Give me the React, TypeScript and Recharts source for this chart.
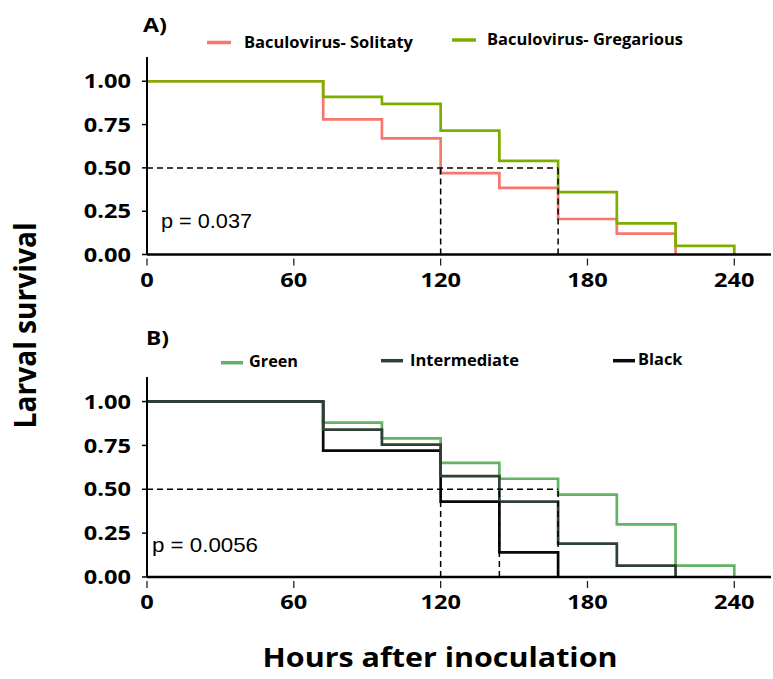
import React from 'react';
import { LineChart, Line, XAxis, YAxis, ReferenceLine } from 'recharts';

// Observation times (hours after inoculation)
const hours = [0, 72, 96, 120, 144, 168, 192, 216, 240];

// Panel A: Kaplan-Meier survival by baculovirus source
const solitarySurvival = [1, 0.78, 0.67, 0.47, 0.385, 0.205, 0.12, 0];
const gregariousSurvival = [1, 0.91, 0.87, 0.715, 0.54, 0.36, 0.18, 0.05, 0];
const mediansA = [120, 168];

// Panel B: Kaplan-Meier survival by larval colour morph
const greenSurvival = [1, 0.88, 0.79, 0.65, 0.56, 0.47, 0.3, 0.065, 0];
const intermediateSurvival = [1, 0.84, 0.755, 0.575, 0.43, 0.19, 0.065, 0];
const blackSurvival = [1, 0.72, 0.72, 0.43, 0.14, 0];
const mediansB = [120, 144, 168];

const xTicks = [0, 60, 120, 180, 240];
const yTicks = [0, 0.25, 0.5, 0.75, 1];

const pValueA = 'p = 0.037';
const pValueB = 'p = 0.0056';

const toRows = (values: number[]) => values.map((s, i) => ({ hour: hours[i], s }));

const seriesA = [
  { name: 'Baculovirus- Solitaty', color: '#F8766D', values: solitarySurvival },
  { name: 'Baculovirus- Gregarious', color: '#7CAE00', values: gregariousSurvival },
];

// drawing order: green, black, then intermediate on top
const seriesB = [
  { name: 'Green', color: '#62B366', values: greenSurvival },
  { name: 'Black', color: '#0A0A0A', values: blackSurvival },
  { name: 'Intermediate', color: '#2E4035', values: intermediateSurvival },
];

const BOLD = "'Open Sans', 'Noto Sans', sans-serif";
const PLAIN = "'Liberation Sans', Arial, sans-serif";
const WIDEN = 1.18;

const HourTick = (props: any) => {
  const { x, y, payload } = props;
  return (
    <g>
      <line x1={x} x2={x} y1={y + 4} y2={y + 11} stroke="#222" strokeWidth={1.3} />
      <text
        transform={`translate(${x}, ${y + 32}) scale(${WIDEN}, 1)`}
        textAnchor="middle"
        fontFamily={BOLD}
        fontWeight={700}
        fontSize={20}
        fill="#000"
      >
        {payload.value}
      </text>
    </g>
  );
};

const SurvivalTick = (props: any) => {
  const { x, y, payload } = props;
  return (
    <text
      transform={`translate(${x}, ${y}) scale(${WIDEN}, 1)`}
      dy="0.355em"
      textAnchor="end"
      fontFamily={BOLD}
      fontWeight={700}
      fontSize={20}
      fill="#000"
    >
      {Number(payload.value).toFixed(2)}
    </text>
  );
};

type Series = { name: string; color: string; values: number[] };

const SurvivalPanel = ({ series, medians, top, bottomMargin }: { series: Series[]; medians: number[]; top: number; bottomMargin: number }) => {
  const lastMedian = Math.max(...medians);
  return (
    <div style={{ position: 'absolute', left: 0, top }}>
      <LineChart width={773} height={300} margin={{ top: 57, right: 2, bottom: bottomMargin, left: 0 }}>
        <XAxis
          type="number"
          dataKey="hour"
          domain={[0, 255]}
          ticks={xTicks}
          height={30}
          tickSize={0}
          tickMargin={0}
          tick={<HourTick />}
          axisLine={{ stroke: '#000', strokeWidth: 2.5 }}
          allowDataOverflow
        />
        <YAxis
          type="number"
          domain={[0, 1.14]}
          ticks={yTicks}
          width={147}
          tickSize={5}
          tickMargin={11}
          tick={<SurvivalTick />}
          tickLine={{ stroke: '#000', strokeWidth: 1.5 }}
          axisLine={{ stroke: '#000', strokeWidth: 2 }}
          allowDataOverflow
        />
        {series.map((s) => (
          <Line
            key={s.name}
            data={toRows(s.values)}
            dataKey="s"
            type="stepAfter"
            stroke={s.color}
            strokeWidth={2.7}
            dot={false}
            activeDot={false}
            isAnimationActive={false}
          />
        ))}
        <ReferenceLine
          segment={[{ x: 0, y: 0.5 }, { x: lastMedian, y: 0.5 }]}
          stroke="#000"
          strokeWidth={1.5}
          strokeDasharray="6 4"
        />
        {medians.map((m) => (
          <ReferenceLine
            key={m}
            segment={[{ x: m, y: 0 }, { x: m, y: 0.5 }]}
            stroke="#000"
            strokeWidth={1.5}
            strokeDasharray="6 4"
          />
        ))}
      </LineChart>
    </div>
  );
};

const legendA = [
  { x: 207, y: 42.5, textX: 244, textY: 48, len: 169 },
  { x: 452, y: 40, textX: 487, textY: 44.5, len: 196 },
];
const legendB = [
  { x: 221, y: 362.7, textX: 249, textY: 367, len: 49 },
  { x: 613, y: 360.7, textX: 638, textY: 365, len: 44.5 },
  { x: 381, y: 360.7, textX: 410, textY: 366, len: 109 },
];

export default function App() {
  return (
    <div style={{ position: 'absolute', left: 0, top: 0, width: 773, height: 679, background: '#fff', overflow: 'hidden' }}>
      <SurvivalPanel series={seriesA} medians={mediansA} top={0} bottomMargin={15.5} />
      <SurvivalPanel series={seriesB} medians={mediansB} top={320} bottomMargin={13} />
      <svg width={773} height={679} style={{ position: 'absolute', left: 0, top: 0, pointerEvents: 'none' }}>
        <text x={143} y={32} fontFamily={BOLD} fontWeight={700} fontSize={19} textLength={24} lengthAdjust="spacingAndGlyphs">A)</text>
        <text x={146} y={345} fontFamily={BOLD} fontWeight={700} fontSize={19} textLength={23} lengthAdjust="spacingAndGlyphs">B)</text>

        {seriesA.map((s, i) => (
          <g key={s.name}>
            <line x1={legendA[i].x} x2={legendA[i].x + 24} y1={legendA[i].y} y2={legendA[i].y} stroke={s.color} strokeWidth={3.5} />
            <text x={legendA[i].textX} y={legendA[i].textY} fontFamily={BOLD} fontWeight={700} fontSize={15.5} textLength={legendA[i].len} lengthAdjust="spacingAndGlyphs">{s.name}</text>
          </g>
        ))}
        {seriesB.map((s, i) => (
          <g key={s.name}>
            <line x1={legendB[i].x} x2={legendB[i].x + 22} y1={legendB[i].y} y2={legendB[i].y} stroke={s.color} strokeWidth={3.5} />
            <text x={legendB[i].textX} y={legendB[i].textY} fontFamily={BOLD} fontWeight={700} fontSize={15.5} textLength={legendB[i].len} lengthAdjust="spacingAndGlyphs">{s.name}</text>
          </g>
        ))}

        <text x={161} y={228} fontFamily={PLAIN} fontSize={21} textLength={91} lengthAdjust="spacingAndGlyphs">{pValueA}</text>
        <text x={152} y={552} fontFamily={PLAIN} fontSize={21} textLength={106} lengthAdjust="spacingAndGlyphs">{pValueB}</text>

        <text
          transform="translate(36, 325.5) rotate(-90)"
          textAnchor="middle"
          fontFamily={BOLD}
          fontWeight={700}
          fontSize={30}
          textLength={206}
          lengthAdjust="spacingAndGlyphs"
        >
          Larval survival
        </text>
        <text x={440} y={667} textAnchor="middle" fontFamily={BOLD} fontWeight={700} fontSize={26} textLength={355} lengthAdjust="spacingAndGlyphs">
          Hours after inoculation
        </text>
      </svg>
    </div>
  );
}
